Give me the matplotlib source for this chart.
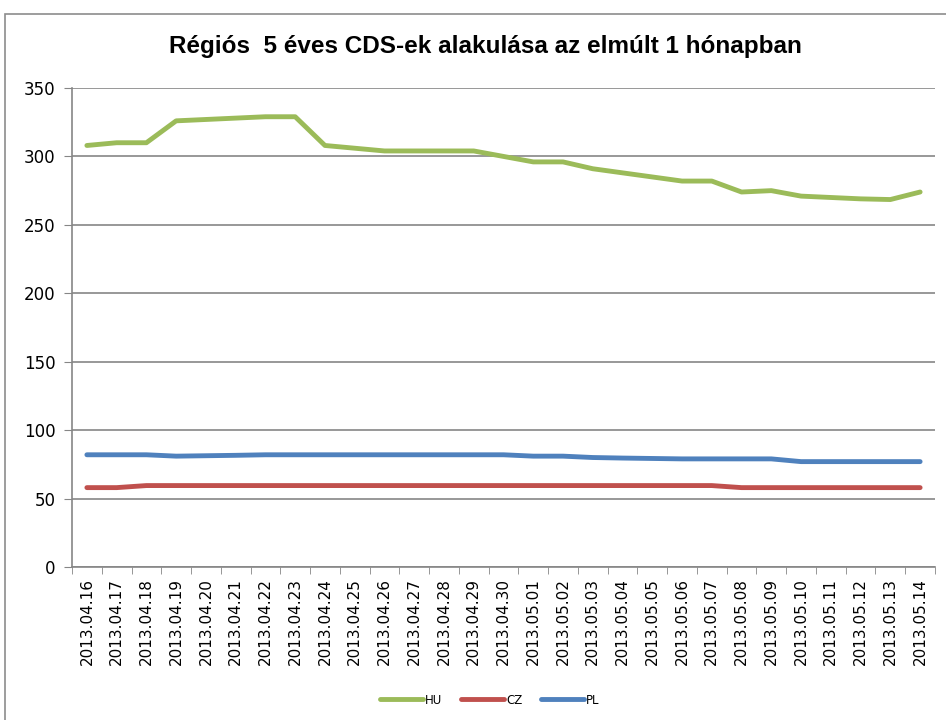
import matplotlib.pyplot as plt
from matplotlib.patches import Rectangle

dates = [
    "2013.04.16", "2013.04.17", "2013.04.18", "2013.04.19", "2013.04.20",
    "2013.04.21", "2013.04.22", "2013.04.23", "2013.04.24", "2013.04.25",
    "2013.04.26", "2013.04.27", "2013.04.28", "2013.04.29", "2013.04.30",
    "2013.05.01", "2013.05.02", "2013.05.03", "2013.05.04", "2013.05.05",
    "2013.05.06", "2013.05.07", "2013.05.08", "2013.05.09", "2013.05.10",
    "2013.05.11", "2013.05.12", "2013.05.13", "2013.05.14",
]
hu = [308, 310, 310, 326, 327, 328, 329, 329, 308, 306, 304, 304, 304, 304, 300,
      296, 296, 291, 288, 285, 282, 282, 274, 275, 271, 270, 269, 268.5, 274]
cz = [58, 58, 59.5, 59.5, 59.5, 59.5, 59.5, 59.5, 59.5, 59.5, 59.5, 59.5, 59.5, 59.5, 59.5,
      59.5, 59.5, 59.5, 59.5, 59.5, 59.5, 59.5, 58, 58, 58, 58, 58, 58, 58]
pl = [82, 82, 82, 81, 81.3, 81.6, 82, 82, 82, 82, 82, 82, 82, 82, 82,
      81, 81, 80, 79.6, 79.3, 79, 79, 79, 79, 77, 77, 77, 77, 77]

series = [("HU", hu, "#9bbb59"), ("CZ", cz, "#c0504d"), ("PL", pl, "#4f81bd")]

W, H = 946, 720
fig = plt.figure(figsize=(W / 100, H / 100), dpi=100)
fig.patches.append(Rectangle((5 / W, -0.01), 1.0, 1 - 14 / H + 0.01, transform=fig.transFigure,
                             fill=False, edgecolor="#8c8c8c", linewidth=1.2))

ax = fig.add_axes([72 / W, 1 - 567 / H, (935 - 72) / W, (567 - 88) / H])
x = list(range(len(dates)))
for name, vals, color in series:
    ax.plot(x, vals, color=color, linewidth=3.5, label=name, solid_capstyle="round")

ax.set_xlim(-0.5, len(dates) - 0.5)
ax.set_ylim(0, 350)
ax.set_yticks(range(0, 351, 50))
ax.set_xticks(x)
ax.set_xticklabels(dates, rotation=90)
ax.set_xticks([i - 0.5 for i in range(len(dates) + 1)], minor=True)
ax.tick_params(axis="x", which="major", length=0, pad=8, labelsize=11)
ax.tick_params(axis="x", which="minor", length=5, color="#868686")
ax.tick_params(axis="y", length=6, color="#868686", labelsize=12, pad=6)
ax.grid(axis="y", color="#868686", linewidth=1.2)
ax.set_axisbelow(True)
for side in ["top", "right"]:
    ax.spines[side].set_visible(False)
for side in ["left", "bottom"]:
    ax.spines[side].set_color("#868686")
    ax.spines[side].set_linewidth(1.2)

fig.text(485 / W, 1 - 47 / H, "Régiós  5 éves CDS-ek alakulása az elmúlt 1 hónapban",
         ha="center", va="center", fontsize=17.5, fontweight="bold", family="Liberation Sans")

fig.legend(loc="center", bbox_to_anchor=(490 / W, 1 - 700 / H), ncol=3, frameon=False,
           fontsize=8.5, handlelength=3.6, columnspacing=1.6, handletextpad=0.2)

fig.savefig("out.png", dpi=100)
